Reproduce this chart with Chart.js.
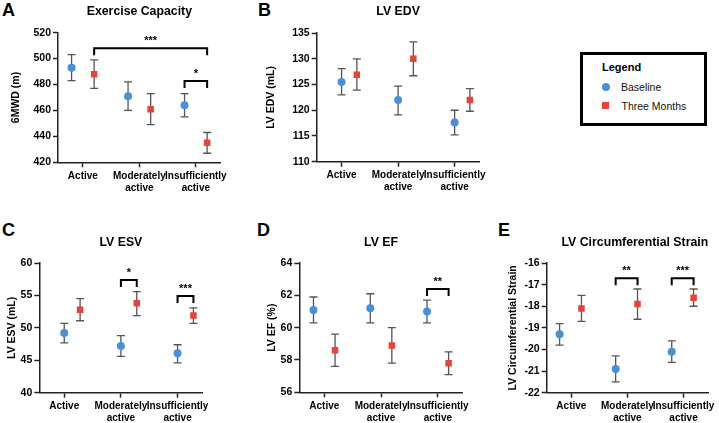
<!DOCTYPE html>
<html>
<head>
<meta charset="utf-8">
<script src="https://cdn.jsdelivr.net/npm/chart.js@4.4.1/dist/chart.umd.min.js"></script>
<style>
  body { margin: 0; background: #fff; width: 719px; height: 423px; overflow: hidden; position: relative;
         font-family: 'Liberation Sans', Arial, sans-serif; }
  canvas { position: absolute; }
  .letter { position: absolute; font-weight: bold; font-size: 18px; line-height: 18px; color: #000; }
  .legend { position: absolute; left: 580px; top: 52px; width: 127px; height: 74px;
            border: 3px solid #000; box-sizing: border-box; }
  .legend span { position: absolute; white-space: nowrap; color: #111; font-size: 10.5px; line-height: 12px; }
  .legend .head { font-weight: bold; font-size: 11px; color: #000; }
  .mk { position: absolute; }
</style>
</head>
<body>
<div class="letter" style="left:2px;top:1px">A</div>
<div class="letter" style="left:258px;top:1px">B</div>
<div class="letter" style="left:2px;top:221px">C</div>
<div class="letter" style="left:257px;top:221px">D</div>
<div class="letter" style="left:498px;top:221px">E</div>

<canvas id="cA" width="240" height="210" style="left:0;top:0"></canvas>
<canvas id="cB" width="260" height="210" style="left:240px;top:0"></canvas>
<canvas id="cC" width="240" height="213" style="left:0;top:210px"></canvas>
<canvas id="cD" width="240" height="213" style="left:240px;top:210px"></canvas>
<canvas id="cE" width="239" height="213" style="left:480px;top:210px"></canvas>

<div class="legend">
  <span class="head" style="left:19px;top:6px">Legend</span>
  <div class="mk" style="left:19px;top:28px;width:8px;height:8px;border-radius:50%;background:#4A90D9"></div>
  <span style="left:38px;top:26px">Baseline</span>
  <div class="mk" style="left:19px;top:47px;width:7px;height:7px;background:#E8433A"></div>
  <span style="left:38.5px;top:45px">Three Months</span>
</div>

<script>
// categorias do eixo x
const categories = [['Active'], ['Moderately', 'active'], ['Insufficiently', 'active']];
const seriesNames = ['Baseline', 'Three Months'];

// A - 6MWD
const mwdBase = [493, 471, 464];
const mwdBaseLo = [483, 460, 455];
const mwdBaseHi = [503, 482, 473];
const mwd3m = [488, 461, 435];
const mwd3mLo = [477, 449, 427];
const mwd3mHi = [499, 473, 443];

// B - LV EDV
const edvBase = [125.5, 122.0, 117.6];
const edvBaseLo = [123.0, 119.1, 115.2];
const edvBaseHi = [128.1, 124.7, 120.0];
const edv3m = [126.9, 130.0, 122.0];
const edv3mLo = [123.9, 126.7, 119.8];
const edv3mHi = [130.0, 133.3, 124.2];

// C - LV ESV
const esvBase = [49.2, 47.2, 46.1];
const esvBaseLo = [47.7, 45.6, 44.6];
const esvBaseHi = [50.7, 48.8, 47.4];
const esv3m = [52.8, 53.8, 51.9];
const esv3mLo = [51.1, 51.9, 50.7];
const esv3mHi = [54.5, 55.6, 53.1];

// D - LV EF
const efBase = [61.1, 61.2, 61.0];
const efBaseLo = [60.3, 60.3, 60.3];
const efBaseHi = [61.9, 62.1, 61.7];
const ef3m = [58.6, 58.9, 57.8];
const ef3mLo = [57.6, 57.8, 57.1];
const ef3mHi = [59.6, 60.0, 58.5];

// E - circumferential strain
const strainBase = [-19.3, -20.9, -20.1];
const strainBaseLo = [-19.8, -21.5, -20.6];
const strainBaseHi = [-18.8, -20.3, -19.6];
const strain3m = [-18.1, -17.9, -17.6];
const strain3mLo = [-18.7, -18.6, -18.0];
const strain3mHi = [-17.5, -17.2, -17.2];

// significance brackets: [cat, series, cat, series, level, label]
const mwdBrackets = [[1, 1, 3, 1, 508, '***'], [3, 0, 3, 1, 482.8, '*']];
const esvBrackets = [[2, 0, 2, 1, 57.4, '*'], [3, 0, 3, 1, 54.9, '***']];
const efBrackets = [[3, 0, 3, 1, 62.4, '**']];
const strainBrackets = [[2, 0, 2, 1, -16.7, '**'], [3, 0, 3, 1, -16.7, '***']];

const FONT = "'Liberation Sans', Arial, sans-serif";
const BLUE = '#4A90D9';
const RED = '#E8433A';
Chart.defaults.font.family = FONT;
Chart.defaults.color = '#000';

// barras de erro
const errorBars = {
  id: 'errorBars',
  beforeDatasetsDraw(chart) {
    const ctx = chart.ctx;
    const y = chart.scales.y;
    ctx.save();
    ctx.strokeStyle = '#555';
    ctx.lineWidth = 1.3;
    chart.data.datasets.forEach((ds, di) => {
      chart.getDatasetMeta(di).data.forEach((pt, i) => {
        const top = y.getPixelForValue(ds.hi[i]);
        const bot = y.getPixelForValue(ds.lo[i]);
        ctx.beginPath();
        ctx.moveTo(pt.x, top); ctx.lineTo(pt.x, bot);
        ctx.moveTo(pt.x - 4, top); ctx.lineTo(pt.x + 4, top);
        ctx.moveTo(pt.x - 4, bot); ctx.lineTo(pt.x + 4, bot);
        ctx.stroke();
      });
    });
    ctx.restore();
  }
};

// colchetes de significancia
const brackets = {
  id: 'brackets',
  afterDatasetsDraw(chart, args, opts) {
    const ctx = chart.ctx;
    const xs = chart.scales.x, ys = chart.scales.y;
    ctx.save();
    ctx.strokeStyle = '#000';
    ctx.fillStyle = '#000';
    ctx.lineWidth = 2;
    ctx.font = 'bold 11px ' + FONT;
    ctx.textAlign = 'center';
    ctx.textBaseline = 'alphabetic';
    (opts.items || []).forEach(b => {
      const x1 = xs.getPixelForValue(b[0] + opts.dodge[b[1]]);
      const x2 = xs.getPixelForValue(b[2] + opts.dodge[b[3]]);
      const yy = ys.getPixelForValue(b[4]);
      ctx.beginPath();
      ctx.moveTo(x1, yy + 7); ctx.lineTo(x1, yy); ctx.lineTo(x2, yy); ctx.lineTo(x2, yy + 7);
      ctx.stroke();
      ctx.fillText(b[5], (x1 + x2) / 2, yy - 4);
    });
    ctx.restore();
  }
};

function makePanel(id, p) {
  const mk = (vals, lo, hi, s) => ({
    label: seriesNames[s],
    data: vals.map((v, i) => ({ x: i + 1 + p.dodge[s], y: v })),
    lo: lo, hi: hi,
    pointStyle: s === 0 ? 'circle' : 'rect',
    pointRadius: s === 0 ? 4 : 4.6,
    backgroundColor: s === 0 ? BLUE : RED,
    borderWidth: 0
  });
  return new Chart(document.getElementById(id), {
    type: 'scatter',
    data: { datasets: [mk(p.base, p.baseLo, p.baseHi, 0), mk(p.m3, p.m3Lo, p.m3Hi, 1)] },
    options: {
      responsive: false,
      animation: false,
      devicePixelRatio: 1,
      layout: { padding: { left: 0, right: p.padRight, top: 0, bottom: 0 } },
      plugins: {
        legend: { display: false },
        tooltip: { enabled: false },
        title: {
          display: true, text: p.title, fullSize: false, align: p.titleAlign || 'center',
          color: '#000', font: { size: 12.3, weight: 'bold', lineHeight: 1.2 },
          padding: { top: p.titleTop, bottom: p.titleBottom }
        },
        brackets: { items: p.brackets, dodge: p.dodge }
      },
      scales: {
        x: {
          type: 'linear', min: 0.56, max: 3.44,
          afterBuildTicks: s => { s.ticks = [1, 2, 3].map(v => ({ value: v })); },
          afterFit: s => { s.height = p.xh; },
          ticks: {
            callback: v => categories[v - 1], autoSkip: false, maxRotation: 0, minRotation: 0,
            padding: 3, color: '#000', font: { size: 10, weight: 'bold', lineHeight: 1.2 }
          },
          grid: { drawOnChartArea: false, drawTicks: true, tickLength: 5, tickColor: '#222', tickWidth: 1.5 },
          border: { color: '#222', width: 1.5 }
        },
        y: {
          min: p.yMin, max: p.yMax,
          afterFit: s => { s.width = p.yw; },
          ticks: { stepSize: p.step, padding: 2, color: '#000', font: { size: 10.5, weight: 'bold' } },
          grid: { drawOnChartArea: false, drawTicks: true, tickLength: 5, tickColor: '#222', tickWidth: 1.5 },
          border: { color: '#222', width: 1.5 },
          title: {
            display: true, text: p.yLabel, color: '#000',
            font: { size: 10.5, weight: 'bold', lineHeight: 1.2 },
            padding: { top: p.yTitlePad, bottom: 0 }
          }
        }
      }
    },
    plugins: [errorBars, brackets]
  });
}

makePanel('cA', {
  title: 'Exercise Capacity', yLabel: '6MWD (m)', yMin: 420, yMax: 520, step: 20,
  base: mwdBase, baseLo: mwdBaseLo, baseHi: mwdBaseHi, m3: mwd3m, m3Lo: mwd3mLo, m3Hi: mwd3mHi,
  dodge: [-0.2, 0.2], brackets: mwdBrackets,
  yw: 58, xh: 47.7, padRight: 19.3, titleTop: 4.5, titleBottom: 13.4, yTitlePad: 10
});
makePanel('cB', {
  title: 'LV EDV', yLabel: 'LV EDV (mL)', yMin: 110, yMax: 135, step: 5,
  base: edvBase, baseLo: edvBaseLo, baseHi: edvBaseHi, m3: edv3m, m3Lo: edv3mLo, m3Hi: edv3mHi,
  dodge: [0, 0.27], brackets: [],
  yw: 76.7, xh: 48.3, padRight: 20.5, titleTop: 4.5, titleBottom: 13.8, yTitlePad: 25.3
});
makePanel('cC', {
  title: 'LV ESV', yLabel: 'LV ESV (mL)', yMin: 40, yMax: 60, step: 5,
  base: esvBase, baseLo: esvBaseLo, baseHi: esvBaseHi, m3: esv3m, m3Lo: esv3mLo, m3Hi: esv3mHi,
  dodge: [0, 0.28], brackets: esvBrackets,
  yw: 39.3, xh: 30.3, padRight: 37.5, titleTop: 25.1, titleBottom: 13.2, yTitlePad: 6.3
});
makePanel('cD', {
  title: 'LV EF', yLabel: 'LV EF (%)', yMin: 56, yMax: 64, step: 2,
  base: efBase, baseLo: efBaseLo, baseHi: efBaseHi, m3: ef3m, m3Lo: ef3mLo, m3Hi: ef3mHi,
  dodge: [-0.19, 0.19], brackets: efBrackets,
  yw: 59.3, xh: 30.7, padRight: 17.2, titleTop: 24.8, titleBottom: 13.5, yTitlePad: 26
});
makePanel('cE', {
  title: 'LV Circumferential Strain', titleAlign: 'end', yLabel: 'LV Circumferential Strain',
  yMin: -22, yMax: -16, step: 1,
  base: strainBase, baseLo: strainBaseLo, baseHi: strainBaseHi, m3: strain3m, m3Lo: strain3mLo, m3Hi: strain3mHi,
  dodge: [-0.21, 0.18], brackets: strainBrackets,
  yw: 66.7, xh: 30.3, padRight: 8, titleTop: 24.8, titleBottom: 13.5, yTitlePad: 27.3
});
</script>
</body>
</html>
